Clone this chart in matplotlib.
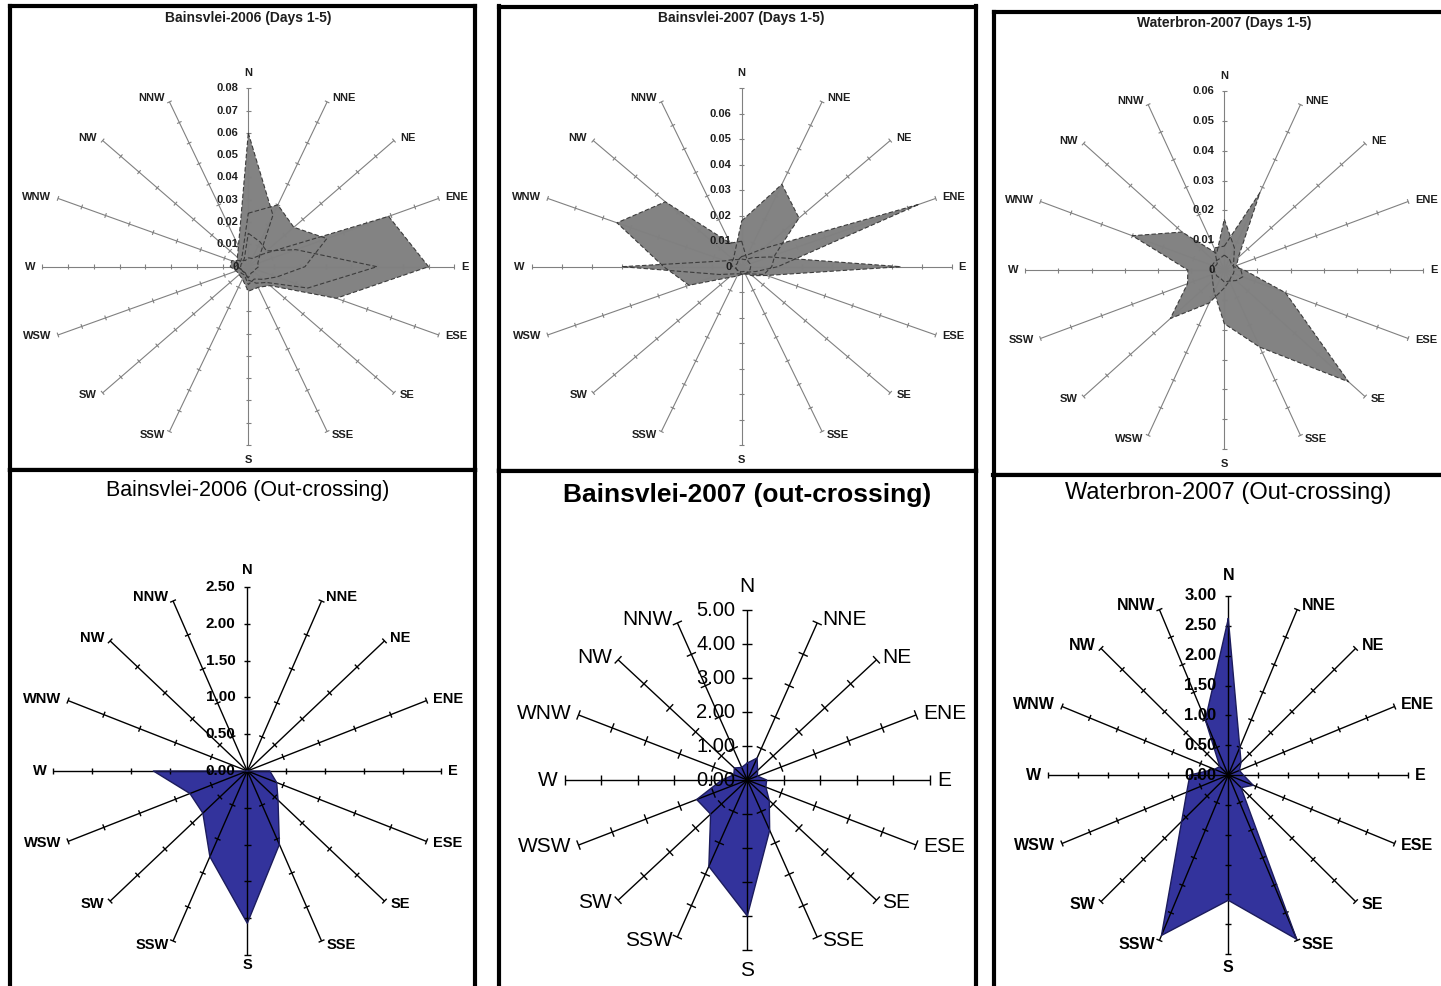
import numpy as np
import matplotlib.pyplot as plt
from matplotlib.collections import LineCollection

W_PX, H_PX = 1441, 986

plt.rcParams['font.family'] = ['Liberation Sans', 'DejaVu Sans']

# compass points, clockwise from north
DIRS = ["N", "NNE", "NE", "ENE", "E", "ESE", "SE", "SSE",
        "S", "SSW", "SW", "WSW", "W", "WNW", "NW", "NNW"]
# the Waterbron days 1-5 chart has SSW / WSW labels swapped
DIRS_WB = ["N", "NNE", "NE", "ENE", "E", "ESE", "SE", "SSE",
           "S", "WSW", "SW", "SSW", "W", "WNW", "NW", "NNW"]

# ---- Bainsvlei-2006 (Days 1-5): pollen deposition per series ----
b06_a = [0.060, 0.025, 0.006, 0.004, 0.004, 0.003, 0.003, 0.003,
         0.005, 0.003, 0.003, 0.003, 0.004, 0.005, 0.006, 0.010]
b06_b = [0.024, 0.030, 0.025, 0.033, 0.022, 0.012, 0.008, 0.006,
         0.008, 0.004, 0.004, 0.003, 0.005, 0.004, 0.004, 0.006]
b06_c = [0.015, 0.012, 0.010, 0.020, 0.050, 0.025, 0.010, 0.008,
         0.006, 0.003, 0.003, 0.003, 0.003, 0.003, 0.003, 0.004]
b06_d = [0.004, 0.004, 0.008, 0.059, 0.070, 0.037, 0.012, 0.010,
         0.011, 0.006, 0.005, 0.005, 0.007, 0.007, 0.004, 0.003]

# ---- Bainsvlei-2007 (Days 1-5) ----
b07_a = [0.010, 0.004, 0.003, 0.003, 0.003, 0.003, 0.003, 0.003,
         0.003, 0.004, 0.006, 0.019, 0.026, 0.045, 0.036, 0.010]
b07_b = [0.018, 0.035, 0.027, 0.012, 0.010, 0.008, 0.004, 0.003,
         0.003, 0.002, 0.002, 0.002, 0.003, 0.004, 0.004, 0.006]
b07_c = [0.004, 0.005, 0.010, 0.064, 0.012, 0.005, 0.003, 0.002,
         0.002, 0.002, 0.002, 0.002, 0.002, 0.002, 0.002, 0.003]
b07_d = [0.003, 0.003, 0.005, 0.010, 0.053, 0.009, 0.005, 0.003,
         0.003, 0.003, 0.004, 0.008, 0.040, 0.006, 0.004, 0.003]

# ---- Waterbron-2007 (Days 1-5) ----
wb_a = [0.005, 0.004, 0.003, 0.003, 0.006, 0.020, 0.053, 0.028,
        0.018, 0.008, 0.005, 0.004, 0.004, 0.004, 0.004, 0.004]
wb_b = [0.017, 0.008, 0.004, 0.003, 0.003, 0.003, 0.003, 0.004,
        0.006, 0.012, 0.023, 0.012, 0.011, 0.030, 0.018, 0.006]
wb_c = [0.008, 0.028, 0.006, 0.004, 0.005, 0.006, 0.005, 0.004,
        0.004, 0.003, 0.003, 0.003, 0.003, 0.003, 0.003, 0.008]

# ---- out-crossing (%) ----
b06_out = [0.00, 0.00, 0.00, 0.00, 0.29, 0.41, 0.56, 1.08,
           2.07, 1.26, 0.81, 0.80, 1.21, 0.00, 0.00, 0.00]
b07_out = [0.50, 0.70, 0.40, 0.30, 0.53, 0.55, 0.85, 1.60,
           4.00, 2.75, 1.42, 1.50, 0.70, 0.40, 0.50, 0.40]
wb_out = [2.62, 0.50, 0.30, 0.20, 0.25, 0.45, 0.30, 2.98,
          2.10, 2.91, 1.10, 0.75, 0.64, 0.25, 0.20, 1.00]

GREY_FILL = "#838383"
BLUE_FILL = "#33339c"

panels = [
    dict(title="Bainsvlei-2006 (Days 1-5)", series=[b06_a, b06_b, b06_c, b06_d],
         labels=DIRS, rmax=0.08, step=0.01, lab_max=0.08, fmt="{:.2f}", zero="0",
         box=(10, 6.5, 475, 469.5), c=(248.3, 266.7), r=(206, 178.4), ty=18,
         kind="top", tfs=10, tw="bold", dfs=8, dw="bold", vfs=8, vw="bold",
         ns=(15, 15)),
    dict(title="Bainsvlei-2007 (Days 1-5)", series=[b07_a, b07_b, b07_c, b07_d],
         labels=DIRS, rmax=0.07, step=0.01, lab_max=0.06, fmt="{:.2f}", zero="0",
         box=(498.5, 6.5, 976, 470.5), c=(741.7, 266.7), r=(210, 178.4), ty=18,
         kind="top", tfs=10, tw="bold", dfs=8, dw="bold", vfs=8, vw="bold",
         ns=(15, 15)),
    dict(title="Waterbron-2007 (Days 1-5)", series=[wb_a, wb_b, wb_c],
         labels=DIRS_WB, rmax=0.06, step=0.01, lab_max=0.06, fmt="{:.2f}", zero="0",
         box=(993.5, 11.5, 1446, 474.5), c=(1224.3, 270), r=(199, 179), ty=23,
         kind="top", tfs=10, tw="bold", dfs=8, dw="bold", vfs=8, vw="bold",
         ns=(15, 15)),
    dict(title="Bainsvlei-2006 (Out-crossing)", series=[b06_out],
         labels=DIRS, rmax=2.5, step=0.5, lab_max=2.5, fmt="{:.2f}", zero=None,
         box=(10, 469.5, 475, 995), c=(247.3, 771), r=(194, 184), ty=490,
         kind="bottom", tfs=15.5, tw="normal", dfs=10.5, dw="bold", vfs=11, vw="bold",
         ns=(17, 10)),
    dict(title="Bainsvlei-2007 (out-crossing)", series=[b07_out],
         labels=DIRS, rmax=5.0, step=1.0, lab_max=5.0, fmt="{:.2f}", zero=None,
         box=(498.5, 470.5, 976, 995), c=(747.3, 780), r=(182.7, 170), ty=495,
         kind="bottom", tfs=19, tw="bold", dfs=15, dw="normal", vfs=14.5, vw="normal",
         ns=(23, 20)),
    dict(title="Waterbron-2007 (Out-crossing)", series=[wb_out],
         labels=DIRS, rmax=3.0, step=0.5, lab_max=3.0, fmt="{:.2f}", zero=None,
         box=(993.5, 474.5, 1446, 995), c=(1228.3, 775), r=(180, 179), ty=493,
         kind="bottom", tfs=17, tw="normal", dfs=11.5, dw="bold", vfs=12, vw="bold",
         ns=(20, 13)),
]

fig = plt.figure(figsize=(W_PX / 100, H_PX / 100), dpi=100)
fig.patch.set_facecolor("white")

theta = np.arange(16) * 2 * np.pi / 16


def closed_xy(vals, rmax):
    r = np.asarray(vals) / rmax
    xs = r * np.sin(theta)
    ys = r * np.cos(theta)
    return np.append(xs, xs[0]), np.append(ys, ys[0])


def draw_panel(p):
    x0, y0, x1, y1 = p["box"]
    cx, cy = p["c"]
    rx, ry = p["r"]
    ax = fig.add_axes([x0 / W_PX, 1 - y1 / H_PX, (x1 - x0) / W_PX, (y1 - y0) / H_PX])
    # data units: 1.0 == full radial scale on each screen axis
    ax.set_xlim((x0 - cx) / rx, (x1 - cx) / rx)
    ax.set_ylim((cy - y1) / ry, (cy - y0) / ry)
    ax.set_xticks([])
    ax.set_yticks([])
    for s in ax.spines.values():
        s.set_linewidth(3)
        s.set_color("black")

    top = p["kind"] == "top"
    spoke_col = "#808080" if top else "black"
    text_col = "#1e1e1e" if top else "black"
    half = 2.5 if top else (5 if p["rmax"] == 5.0 else 3.2)

    # filled series, outlines drawn after all fills
    for vals in p["series"]:
        xs, ys = closed_xy(vals, p["rmax"])
        ax.fill(xs, ys, color=GREY_FILL if top else BLUE_FILL, lw=0, zorder=2)
    for vals in p["series"]:
        xs, ys = closed_xy(vals, p["rmax"])
        if top:
            ax.plot(xs, ys, color="#3c3c3c", lw=0.8, ls=(0, (4, 2)), zorder=4)
        else:
            ax.plot(xs, ys, color="#1c1c5c", lw=1.0, zorder=4)

    # spokes with cross ticks
    n_ticks = int(round(p["rmax"] / p["step"]))
    segs = []
    for t in theta:
        ux, uy = np.sin(t), np.cos(t)
        segs.append([(0, 0), (ux, uy)])
        # perpendicular in screen pixels
        px, py = ux * rx, uy * ry
        norm = np.hypot(px, py)
        qx, qy = -py / norm, px / norm
        for k in range(1, n_ticks + 1):
            f = k / n_ticks
            segs.append([(f * ux - half * qx / rx, f * uy - half * qy / ry),
                         (f * ux + half * qx / rx, f * uy + half * qy / ry)])
    ax.add_collection(LineCollection(segs, colors=spoke_col,
                                     linewidths=0.8 if top else 1.0, zorder=3))

    # value labels up the north spoke
    gap = 10 if top else 12
    for k in range(0, n_ticks + 1):
        v = k * p["step"]
        if v > p["lab_max"] + 1e-9:
            continue
        s = p["zero"] if (k == 0 and p["zero"] is not None) else p["fmt"].format(v)
        ax.text(-gap / rx, k / n_ticks, s, ha="right", va="center",
                fontsize=p["vfs"], fontweight=p["vw"], color=text_col, zorder=5)

    # compass labels
    dn, ds = p["ns"]
    for t, lab in zip(theta, p["labels"]):
        ux, uy = np.sin(t), np.cos(t)
        if abs(ux) < 1e-6:
            off = dn if uy > 0 else ds
            ax.text(0, uy + np.sign(uy) * off / ry, lab, ha="center", va="center",
                    fontsize=p["dfs"], fontweight=p["dw"], color=text_col)
            continue
        px, py = ux * rx, uy * ry
        norm = np.hypot(px, py)
        ox = 4 * px / norm + 3 * np.sign(ux)
        oy = 4 * py / norm
        ax.text(ux + ox / rx, uy + oy / ry, lab,
                ha="left" if ux > 0 else "right", va="center",
                fontsize=p["dfs"], fontweight=p["dw"], color=text_col)

    ax.text(0, (cy - p["ty"]) / ry, p["title"], ha="center", va="center",
            fontsize=p["tfs"], fontweight=p["tw"], color=text_col)


for p in panels:
    draw_panel(p)

fig.savefig("out.png", dpi=100, facecolor="white")
